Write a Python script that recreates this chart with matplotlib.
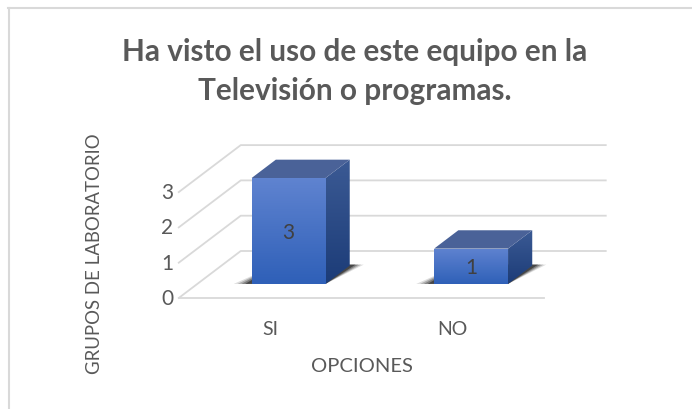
#!/usr/bin/env python3
# coding=utf-8

import matplotlib
matplotlib.use('Agg')
import matplotlib.pyplot as plt
import numpy as np
from matplotlib.patches import Polygon

title = 'Ha visto el uso de este equipo en la\nTelevisión o programas.'
categories = ['SI', 'NO']
values = [3, 1]
yticks = [0, 1, 2, 3]
ylabel = 'GRUPOS DE LABORATORIO'
xlabel = 'OPCIONES'

W, H = 692, 410
PX_CAT = 182.5   # pixels per category
PX_VAL = 35.3    # pixels per unit
X0, Y0 = 270, 299  # pixel of category 0, value 0, front of the floor
DX = 62 / PX_CAT   # oblique offset of the full depth
DY = 47 / PX_VAL
BAR_W = 0.405
D0, D1 = 0.30, 0.69  # bar front and back depth

TXT = '#595959'
plt.rcParams['font.family'] = ['Lato', 'DejaVu Sans']

fig = plt.figure(figsize=(W / 100, H / 100), dpi=100)
ax = fig.add_axes([0, 0, 1, 1])
ax.set_xlim(-X0 / PX_CAT, (W - X0) / PX_CAT)
ax.set_ylim((Y0 - H) / PX_VAL, Y0 / PX_VAL)
ax.axis('off')


def proj(x, v, d):
    return x + d * DX, v + d * DY


def grad(poly, top, bottom, z):
    # vertical gradient clipped to a polygon
    xs, ys = zip(*poly)
    g = np.array([matplotlib.colors.to_rgb(c) for c in (top, bottom)])
    t = np.linspace(0, 1, 64)[:, None]
    img = (g[0] * (1 - t) + g[1] * t)[:, None, :]
    im = ax.imshow(img, extent=[min(xs), max(xs), min(ys), max(ys)],
                   aspect='auto', zorder=z, origin='upper')
    p = Polygon(poly, closed=True, transform=ax.transData, fc='none', ec='none')
    ax.add_patch(p)
    im.set_clip_path(p)


xl, xr = -0.5, 1.5
grid = '#d9d9d9'
for v in yticks:
    a, b, c = proj(xl, v, 0), proj(xl, v, 1), proj(xr, v, 1)
    ax.plot([a[0], b[0], c[0]], [a[1], b[1], c[1]], color=grid, lw=1.3, zorder=1)
ax.plot([xl, xr], [0, 0], color=grid, lw=1.3, zorder=1)

for i, v in enumerate(values):
    x0, x1 = i - BAR_W / 2, i + BAR_W / 2
    # shadow on the floor
    for grow, alpha in ((0.07, 0.15), (0.055, 0.25), (0.04, 0.35), (0.025, 0.6)):
        shadow = [proj(x0 - grow * 1.4, 0, D0), proj(x1, 0, D0),
                  proj(x1 + grow, 0, D1 + 0.02), proj(x0, 0, D1 + 0.02)]
        ax.add_patch(Polygon(shadow, fc='#222222', ec='none', alpha=alpha, zorder=2))
    front = [proj(x0, 0, D0), proj(x1, 0, D0), proj(x1, v, D0), proj(x0, v, D0)]
    side = [proj(x1, 0, D0), proj(x1, 0, D1), proj(x1, v, D1), proj(x1, v, D0)]
    top = [proj(x0, v, D0), proj(x1, v, D0), proj(x1, v, D1), proj(x0, v, D1)]
    grad(side, '#3b5a94', '#1c3c78', 3)
    ax.add_patch(Polygon(top, fc='#4a6298', ec='none', zorder=3))
    grad(front, '#5f83d0', '#2f60b8', 4)
    cx, cy = proj(i, v / 2, D0)
    ax.text(cx, cy - 0.03, str(v), color='#404040', fontsize=15, ha='center',
            va='center', zorder=5)

for v in yticks:
    ax.text(-0.53, v, str(v), color=TXT, fontsize=15, ha='right', va='center', zorder=5)

for i, c in enumerate(categories):
    ax.text(i, -0.85, c, color=TXT, fontsize=14, ha='center', va='center')

fig.text(362 / W, 1 - 367 / H, xlabel, color=TXT, fontsize=14.5, ha='center', va='center')
fig.text(95 / W, 1 - 254 / H, ylabel, color=TXT, fontsize=13.4, rotation=90,
         ha='center', va='center')
fig.text(355 / W, 1 - 71.5 / H, title, color=TXT, fontsize=21.4, fontweight='bold',
         ha='center', va='center', linespacing=1.48)

# chart frame
fig.add_artist(plt.Line2D([8.5 / W, 8.5 / W], [0, 1 - 8.5 / H], color=grid, lw=1.5))
fig.add_artist(plt.Line2D([8 / W, 1], [1 - 8.5 / H, 1 - 8.5 / H], color=grid, lw=1.5))

fig.savefig('out.png', dpi=100)
